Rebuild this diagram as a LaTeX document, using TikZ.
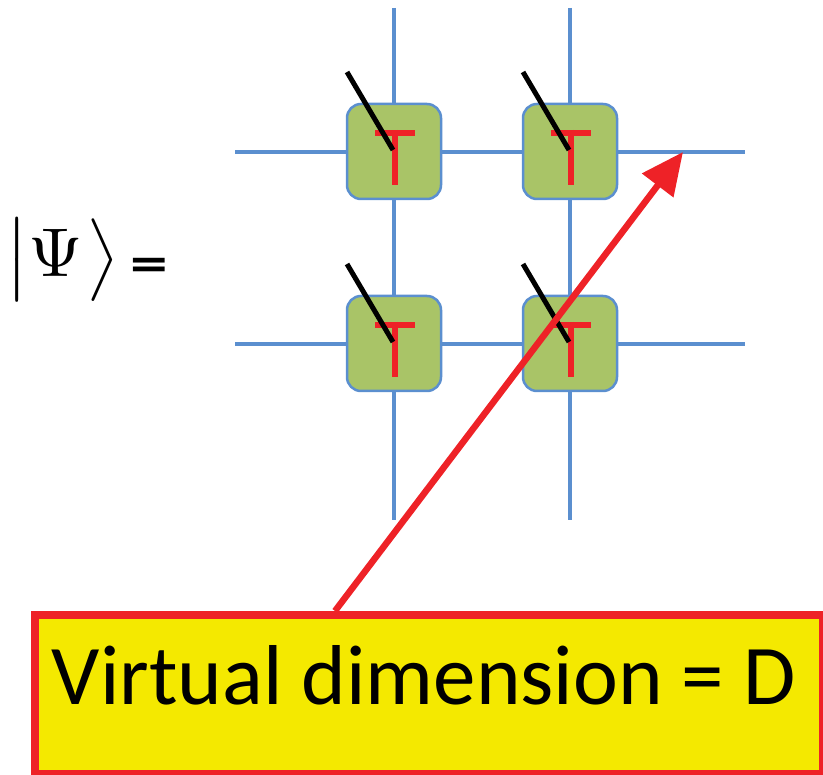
\documentclass[tikz,border=0pt]{standalone}
\usepackage{fontspec}
\newfontfamily\carlito{Carlito}
\usetikzlibrary{arrows.meta}
\definecolor{gridblue}{HTML}{5B8FCF}
\definecolor{tgreen}{HTML}{A9C467}
\definecolor{tred}{HTML}{EE2227}
\definecolor{tyellow}{HTML}{F4E900}
\tikzset{
  gridline/.style={draw=gridblue, line width=4.5pt},
  tensorbox/.style={draw=gridblue, line width=2.5pt, fill=tgreen, rounded corners=14pt},
  tbar/.style={draw=tred, line width=6.5pt},
  leg/.style={draw=black, line width=5pt},
  callout/.style={draw=tred, fill=tyellow, line width=8pt},
  pointer/.style={draw=tred, line width=6.5pt, -{Triangle[length=42pt,width=38pt]}}
}
\begin{document}
\begin{tikzpicture}[x=1pt,y=-1pt]
\useasboundingbox (0,0) rectangle (823,775);
% grid lines
\draw[gridline] (394,8) -- (394,520);
\draw[gridline] (570,8) -- (570,520);
\draw[gridline] (235,152) -- (745,152);
\draw[gridline] (235,344) -- (745,344);
% tensors
\foreach \cx/\cy/\nm in {394/152/a, 570/152/b, 394/344/c, 570/344/d} {
  \draw[tensorbox] (\cx-47,\cy-48) rectangle (\cx+47,\cy+47);
  \draw[tbar] (\cx-19,\cy-19) -- (\cx+21,\cy-19);
  \draw[tbar] (\cx+1,\cy-22) -- (\cx+1,\cy+33);
  \draw[leg] (\cx-47,\cy-80) -- (\cx-1,\cy-2);
}
% ket
\node[anchor=base west, inner sep=0pt] (ket) at (5,277)
  {\scalebox{7}[6.9]{$\bigl|\Psi\mkern1mu\bigr\rangle$}};
\node[anchor=base west, inner sep=0pt, font=\carlito\bfseries\fontsize{52}{60}\selectfont] (eq) at (130,282) {\scalebox{1.45}[1]{=}};
% callout
\node[callout, minimum width=788pt, minimum height=159pt, anchor=north west, inner sep=0pt] (box) at (31,611) {};
\node[anchor=base, inner sep=0pt, font=\carlito\fontsize{85}{90}\selectfont] (lbl) at (424,705) {Virtual dimension = D};
\coordinate (tip) at (683,152);
\coordinate (start) at (335,611);
\draw[pointer] (start) -- (tip);
\end{tikzpicture}
\end{document}
